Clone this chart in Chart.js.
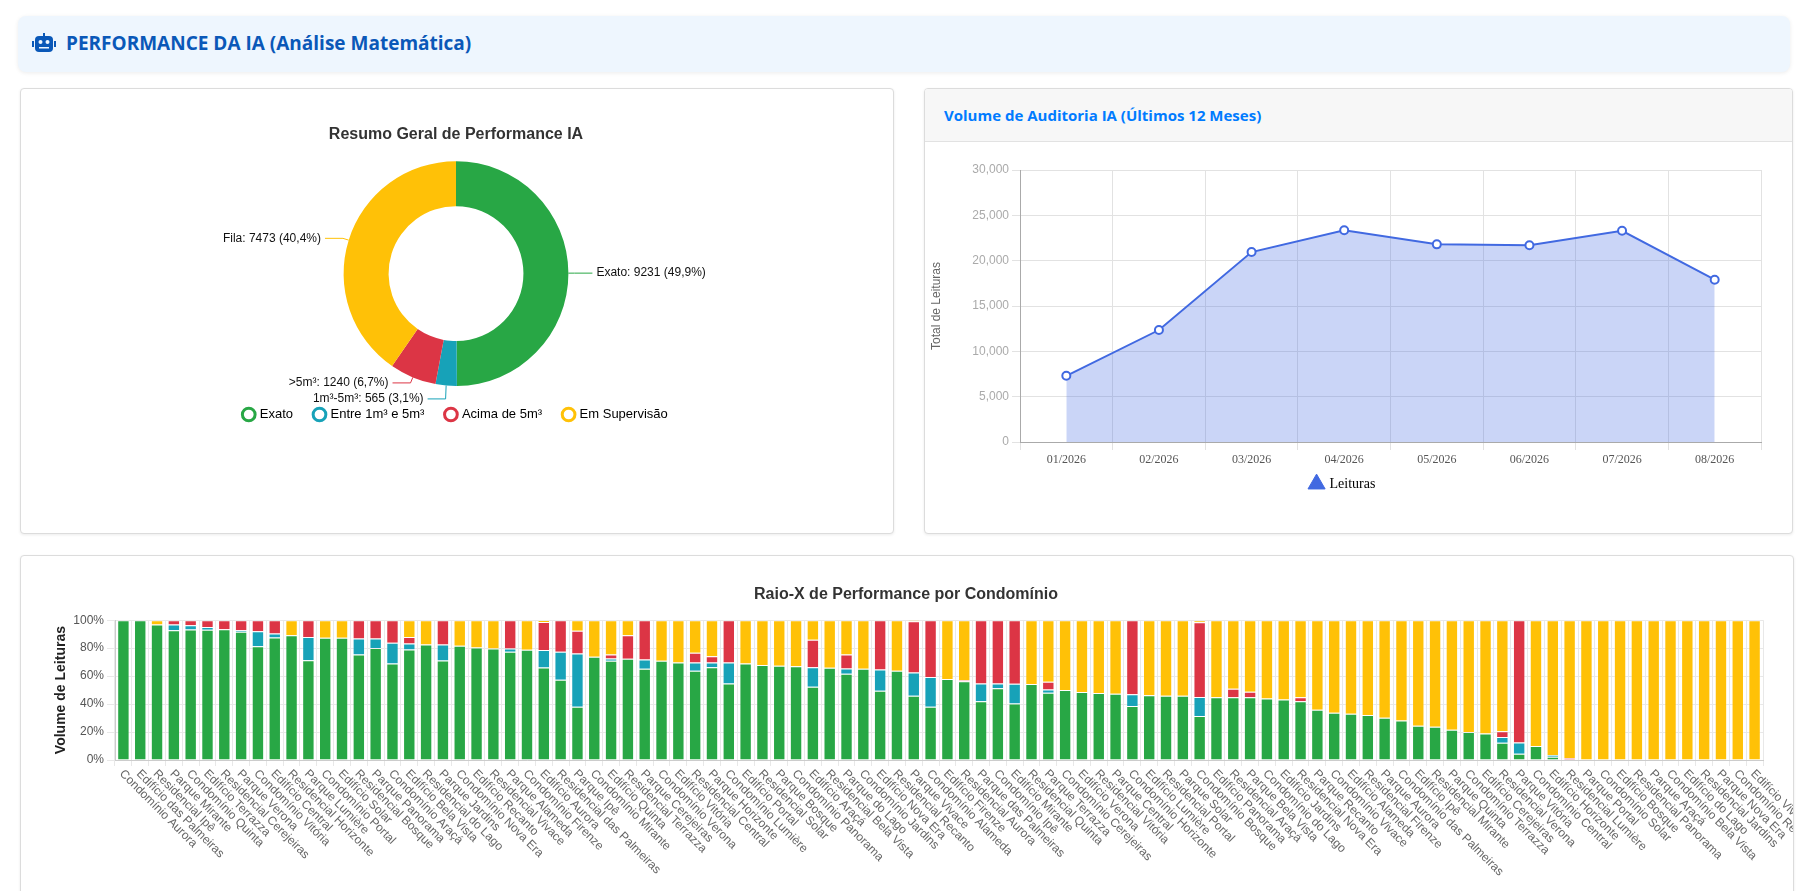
<!DOCTYPE html>
<html><head><meta charset="utf-8">
<script src="https://cdn.jsdelivr.net/npm/chart.js@4.4.1/dist/chart.umd.min.js"></script>
<style>
body{margin:0;background:#fff;font-family:"Liberation Sans",Arial,sans-serif;overflow:hidden;width:1807px;height:891px;position:relative}
.hdr{position:absolute;left:18px;top:16px;width:1772px;height:56px;background:#eef6fe;border-radius:8px;box-shadow:0 1px 4px rgba(0,0,0,.08)}
.hdr span{position:absolute;left:48px;top:14px;font:bold 19px "Open Sans",sans-serif;color:#0a58b8}
.hdr svg{position:absolute;left:14px;top:17px}
.card{position:absolute;background:#fff;border:1px solid #dcdcdc;border-radius:4px;box-shadow:0 1px 3px rgba(0,0,0,.08);overflow:hidden}
.ch{position:absolute}
.c2h{position:absolute;left:0;top:0;right:0;height:52px;background:#f7f7f7;border-bottom:1px solid #e2e2e2}
.c2h span{position:absolute;left:19px;top:16px;font:bold 15px "Open Sans",sans-serif;color:#007bff}
</style></head><body>
<div class="hdr"><svg width="24" height="20" viewBox="0 0 24 20"><rect x="3" y="3" width="18" height="16" rx="4" fill="#0a58b8"/><rect x="0" y="8" width="2" height="6" fill="#0a58b8"/><rect x="22" y="8" width="2" height="6" fill="#0a58b8"/><rect x="11" y="0" width="2" height="3" fill="#0a58b8"/><circle cx="8.5" cy="9" r="2" fill="#eef6fe"/><circle cx="15.5" cy="9" r="2" fill="#eef6fe"/><rect x="7" y="14" width="10" height="1.5" fill="#eef6fe"/></svg><span>PERFORMANCE DA IA (Análise Matemática)</span></div>
<div class="card" style="left:20px;top:88px;width:872px;height:444px"></div>
<div class="card" style="left:924px;top:88px;width:867px;height:444px"><div class="c2h"><span>Volume de Auditoria IA (Últimos 12 Meses)</span></div></div>
<div class="card" style="left:20px;top:555px;width:1772px;height:400px"></div>
<div class="ch" style="left:21px;top:100px;width:870px;height:345px"><canvas id="pie"></canvas></div>
<div class="ch" style="left:925px;top:141px;width:865px;height:391px"><canvas id="line"></canvas></div>
<div class="ch" style="left:21px;top:556px;width:1772px;height:335px"><canvas id="bar"></canvas></div>
<script>
// ---- Donut data ----
const pieLabels = ['Exato','Entre 1m³ e 5m³','Acima de 5m³','Em Supervisão'];
const pieShort = ['Exato','1m³-5m³','>5m³','Fila'];
const pieValues = [9231,565,1240,7473];
const pieColors = ['#28a745','#17a2b8','#dc3545','#ffc107'];
// ---- Line data ----
const months = ['01/2026','02/2026','03/2026','04/2026','05/2026','06/2026','07/2026','08/2026'];
const leituras = [7300,12350,20950,23350,21800,21700,23300,17900];
// ---- Bar data ----
const condos = ['Condomínio Aurora','Edifício das Palmeiras','Residencial Ipê','Parque Mirante','Condomínio Quinta','Edifício Terrazza','Residencial Cerejeiras','Parque Verona','Condomínio Vitória','Edifício Central','Residencial Horizonte','Parque Lumière','Condomínio Portal','Edifício Solar','Residencial Bosque','Parque Panorama','Condomínio Araçá','Edifício Bela Vista','Residencial do Lago','Parque Jardins','Condomínio Nova Era','Edifício Recanto','Residencial Vivace','Parque Alameda','Condomínio Firenze','Edifício Aurora','Residencial das Palmeiras','Parque Ipê','Condomínio Mirante','Edifício Quinta','Residencial Terrazza','Parque Cerejeiras','Condomínio Verona','Edifício Vitória','Residencial Central','Parque Horizonte','Condomínio Lumière','Edifício Portal','Residencial Solar','Parque Bosque','Condomínio Panorama','Edifício Araçá','Residencial Bela Vista','Parque do Lago','Condomínio Jardins','Edifício Nova Era','Residencial Recanto','Parque Vivace','Condomínio Alameda','Edifício Firenze','Residencial Aurora','Parque das Palmeiras','Condomínio Ipê','Edifício Mirante','Residencial Quinta','Parque Terrazza','Condomínio Cerejeiras','Edifício Verona','Residencial Vitória','Parque Central','Condomínio Horizonte','Edifício Lumière','Residencial Portal','Parque Solar','Condomínio Bosque','Edifício Panorama','Residencial Araçá','Parque Bela Vista','Condomínio do Lago','Edifício Jardins','Residencial Nova Era','Parque Recanto','Condomínio Vivace','Edifício Alameda','Residencial Firenze','Parque Aurora','Condomínio das Palmeiras','Edifício Ipê','Residencial Mirante','Parque Quinta','Condomínio Terrazza','Edifício Cerejeiras','Residencial Verona','Parque Vitória','Condomínio Central','Edifício Horizonte','Residencial Lumière','Parque Portal','Condomínio Solar','Edifício Bosque','Residencial Panorama','Parque Araçá','Condomínio Bela Vista','Edifício do Lago','Residencial Jardins','Parque Nova Era','Condomínio Recanto','Edifício Vivace'];
const exato = [100,100,97,92.9,93.3,93.1,93.6,91.7,81.4,87.6,89.3,71.4,87.4,87.4,75.5,80.2,69,79,82.6,71.2,81.7,80.5,79.8,77.4,78.8,66.2,57.4,38.1,73.8,71,72.4,65.2,71,69.8,63.8,66.4,54.8,69,67.9,67.4,67.1,52.4,66,61.7,65.2,49.5,63.8,46,38.1,57.9,56.4,42.1,51.4,40.5,54.3,48.1,50,48.6,47.9,47.4,38.6,46.4,46,46,31.4,44.8,44.8,44.8,44,43.3,42.1,36,33.8,33.1,32.1,30.2,28.3,24.5,23.8,21.7,20,19,12.4,4.5,10,2.4,0,0,0,0,0,0,0,0,0,0,0,0];
const entre = [0,0,0,4,3.1,2.1,0,1.2,10.7,2.9,0,16.5,0,0,11.4,6.7,14.8,4.3,0,11.4,0,0,0,2.4,0,12.4,20,38.1,0,1.6,0,6.7,0,0,6,3.4,15,0,0,0,0,14,0,3.8,0,15.3,0,16.6,21.2,0,0,12.7,3.4,14,0,2.4,0,0,0,0,8.5,0,0,0,13.6,0,0,0,0,0,0,0,0,0,0,0,0,0,0,0,0,0,4,8.1,0,1.2,0,0,0,0,0,0,0,0,0,0,0,0];
const acima = [0,0,0,3.1,3.6,4.8,6.4,7.1,7.9,9.5,0,12.1,0,0,13.1,13.1,16.2,4.6,0,17.4,0,0,0,20.2,0,20.2,22.6,16.2,0,2.9,16.9,28.1,0,0,6.9,4.5,30.2,0,0,0,0,19.6,0,10,0,35.2,0,36.7,40.7,0,0.7,45.2,45.2,45.5,0,5.5,0,0,0,0,52.9,0,0,0,53.6,0,6.2,4,0,0,2.7,0,0,0,0,0,0,0,0,0,0,0,4.1,87.4,0,0,1.5,0,0,0,0,0,0,0,0,0,0,0];
const supervisao = [0,0,3,0,0,0,0,0,0,0,10.7,0,12.6,12.6,0,0,0,12.1,17.4,0,18.3,19.5,20.2,0,21.2,1.2,0,7.6,26.2,24.5,10.7,0,29,30.2,23.3,25.7,0,31,32.1,32.6,32.9,14,34,24.5,34.8,0,36.2,0.7,0,42.1,42.9,0,0,0,45.7,44,50,51.4,52.1,52.6,0,53.6,54,54,1.4,55.2,49,51.2,56,56.7,55.2,64,66.2,66.9,67.9,69.8,71.7,75.5,76.2,78.3,80,81,79.5,0,90,96.4,98.5,100,100,100,100,100,100,100,100,100,100,100];

Chart.defaults.animation = false;
Chart.defaults.font.family = '"Liberation Sans", Arial, sans-serif';

// Donut callout plugin
const callout = {
  id:'callout',
  afterDatasetsDraw(chart){
    const ctx = chart.ctx, meta = chart.getDatasetMeta(0);
    const total = pieValues.reduce((a,b)=>a+b,0);
    const items = meta.data.map((arc,i)=>{
      const a = (arc.startAngle+arc.endAngle)/2, r = arc.outerRadius;
      const p0 = {x:arc.x+Math.cos(a)*r, y:arc.y+Math.sin(a)*r};
      const p1 = {x:arc.x+Math.cos(a)*(r+6), y:arc.y+Math.sin(a)*(r+6)};
      const pct = (pieValues[i]/total*100).toFixed(1).replace('.',',');
      return {i,p0,p1,y:p1.y,side:Math.cos(a)>=0?1:-1,text:`${pieShort[i]}: ${pieValues[i]} (${pct}%)`};
    });
    [1,-1].forEach(s=>{
      const g = items.filter(t=>t.side===s).sort((a,b)=>a.y-b.y);
      for(let k=1;k<g.length;k++) if(g[k].y-g[k-1].y<16) g[k].y=g[k-1].y+16;
    });
    ctx.save();
    ctx.font = '12px "Liberation Sans", Arial, sans-serif';
    ctx.textBaseline='middle';
    items.forEach(t=>{
      ctx.strokeStyle = pieColors[t.i]; ctx.lineWidth=1;
      ctx.beginPath(); ctx.moveTo(t.p0.x,t.p0.y); ctx.lineTo(t.p1.x,t.y); ctx.lineTo(t.p1.x+t.side*18,t.y); ctx.stroke();
      ctx.fillStyle='#111'; ctx.textAlign = t.side>0?'left':'right';
      ctx.fillText(t.text,t.p1.x+t.side*22,t.y);
    });
    ctx.restore();
  }
};
new Chart(document.getElementById('pie'),{
  type:'doughnut',
  data:{labels:pieLabels,datasets:[{data:pieValues,backgroundColor:pieColors,borderWidth:0}]},
  options:{responsive:true,maintainAspectRatio:false,cutout:'60%',
    layout:{padding:{top:8,bottom:14}},
    plugins:{
      title:{display:true,text:'Resumo Geral de Performance IA',color:'#333',font:{size:16,weight:'bold'},padding:{top:17,bottom:17}},
      legend:{position:'bottom',labels:{usePointStyle:true,pointStyle:'circle',boxWidth:9,boxHeight:9,padding:22,color:'#555',font:{size:13},
        generateLabels(chart){return pieLabels.map((l,i)=>({text:l,fillStyle:'#fff',strokeStyle:pieColors[i],lineWidth:3,pointStyle:'circle',index:i,hidden:false}));}}},
      tooltip:{enabled:false}}},
  plugins:[callout]
});

// Line chart
new Chart(document.getElementById('line'),{
  type:'line',
  data:{labels:months,datasets:[{label:'Leituras',data:leituras,borderColor:'#4169e1',backgroundColor:'rgba(65,105,225,0.28)',fill:'origin',borderWidth:2,tension:0,
    pointRadius:4,pointBackgroundColor:'#fff',pointBorderColor:'#4169e1',pointBorderWidth:2,pointStyle:'circle'}]},
  options:{responsive:true,maintainAspectRatio:false,
    layout:{padding:{top:29,right:29,bottom:31}},
    scales:{
      x:{offset:true,grid:{offset:true,color:'#e2e2e2',tickLength:8},border:{color:'#aaa'},
        ticks:{color:'#555',font:{family:'"Liberation Serif", "Times New Roman", serif',size:12}},
        afterFit(s){s.height=25;}},
      y:{min:0,max:30000,ticks:{stepSize:5000,color:'#aaa',font:{size:12}},grid:{color:'#e2e2e2',tickLength:8},border:{color:'#aaa'},
        title:{display:true,text:'Total de Leituras',color:'#666',font:{size:12}},
        afterFit(s){s.width=95;}}},
    plugins:{legend:{position:'bottom',labels:{usePointStyle:true,pointStyle:'triangle',boxWidth:12,color:'#555',font:{family:'"Liberation Serif", "Times New Roman", serif',size:14},
      generateLabels(){return [{text:'Leituras',fillStyle:'#4169e1',strokeStyle:'#4169e1',pointStyle:'triangle',lineWidth:1}];}}},
      tooltip:{enabled:false}}}
});

// Bar chart with rotated labels plugin
const rotLabels = {
  id:'rotLabels',
  afterDraw(chart){
    const ctx=chart.ctx, xs=chart.scales.x, top=chart.chartArea.bottom+8;
    ctx.save(); ctx.font='12px "Liberation Sans", Arial, sans-serif'; ctx.fillStyle='#666';
    ctx.textAlign='left'; ctx.textBaseline='middle';
    condos.forEach((l,i)=>{const x=xs.getPixelForTick(i);
      ctx.save(); ctx.translate(x-2,top+4); ctx.rotate(Math.PI/4); ctx.fillText(l,0,0); ctx.restore();});
    ctx.restore();
  }
};
const ds=(label,data,color)=>({label,data,backgroundColor:color,borderColor:'rgba(255,255,255,0.25)',borderWidth:1,barPercentage:0.82,categoryPercentage:0.9});
new Chart(document.getElementById('bar'),{
  type:'bar',
  data:{labels:condos,datasets:[ds('Exato',exato,'#28a745'),ds('Entre 1m³ e 5m³',entre,'#17a2b8'),ds('Acima de 5m³',acima,'#dc3545'),ds('Em Supervisão',supervisao,'#ffc107')]},
  options:{responsive:true,maintainAspectRatio:false,
    layout:{padding:{left:28,right:30,top:0,bottom:0}},
    scales:{
      x:{stacked:true,grid:{color:'#e8e8e8',tickLength:6},border:{color:'#ccc'},ticks:{display:false},afterFit(s){s.height=131;}},
      y:{stacked:true,min:0,max:100,ticks:{stepSize:10,color:'#555',font:{size:12},callback:v=>v+'%'},grid:{color:'#e8e8e8'},border:{color:'#ccc'},
        title:{display:true,text:'Volume de Leituras',color:'#222',font:{size:14,weight:'bold'}},afterFit(s){s.width=66;}}},
    plugins:{legend:{display:false},tooltip:{enabled:false},
      title:{display:true,text:'Raio-X de Performance por Condomínio',color:'#333',font:{size:16,weight:'bold'},padding:{top:29,bottom:16}}}},
  plugins:[rotLabels]
});
</script></body></html>
